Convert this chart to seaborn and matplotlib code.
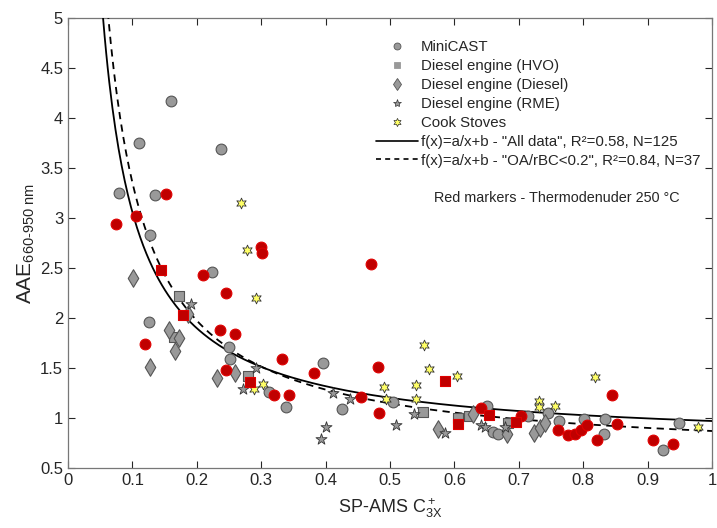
import numpy as np
import pandas as pd
import matplotlib
matplotlib.use("Agg")
import matplotlib.pyplot as plt
import seaborn as sns
from matplotlib.lines import Line2D

# ---- data ----
mini_x = [0.160, 0.111, 0.238, 0.079, 0.135, 0.127, 0.223, 0.126, 0.250, 0.251, 0.312, 0.339,
          0.396, 0.425, 0.504, 0.650, 0.660, 0.667, 0.715, 0.746, 0.763, 0.802, 0.834, 0.832,
          0.924, 0.948]
mini_y = [4.17, 3.75, 3.69, 3.25, 3.23, 2.83, 2.46, 1.96, 1.71, 1.59, 1.26, 1.11,
          1.55, 1.09, 1.16, 1.12, 0.86, 0.84, 1.02, 1.05, 0.97, 0.99, 0.99, 0.84,
          0.68, 0.95]
mini_td_x = [0.0745, 0.105, 0.152, 0.120, 0.209, 0.245, 0.236, 0.260, 0.246, 0.300, 0.301,
             0.332, 0.320, 0.343, 0.382, 0.455, 0.470, 0.481, 0.483, 0.642, 0.704, 0.761,
             0.776, 0.788, 0.797, 0.806, 0.821, 0.844, 0.852, 0.908, 0.939]
mini_td_y = [2.94, 3.02, 3.24, 1.74, 2.43, 2.25, 1.88, 1.84, 1.48, 2.71, 2.65,
             1.59, 1.23, 1.23, 1.45, 1.21, 2.54, 1.51, 1.05, 1.10, 1.02, 0.88,
             0.83, 0.84, 0.88, 0.93, 0.78, 1.23, 0.94, 0.78, 0.74]
hvo_x = [0.172, 0.165, 0.280, 0.552, 0.605, 0.623, 0.684]
hvo_y = [2.22, 1.81, 1.42, 1.06, 1.00, 1.02, 0.95]
hvo_td_x = [0.144, 0.178, 0.283, 0.586, 0.605, 0.654, 0.696]
hvo_td_y = [2.48, 2.03, 1.36, 1.37, 0.94, 1.03, 0.96]
dsl_x = [0.101, 0.186, 0.157, 0.173, 0.166, 0.128, 0.232, 0.259, 0.575, 0.629, 0.682,
         0.723, 0.733, 0.741]
dsl_y = [2.40, 2.04, 1.88, 1.80, 1.67, 1.51, 1.40, 1.45, 0.89, 1.04, 0.84,
         0.85, 0.90, 0.95]
rme_x = [0.191, 0.292, 0.271, 0.411, 0.438, 0.400, 0.393, 0.509, 0.537, 0.585, 0.642,
         0.648, 0.679]
rme_y = [2.14, 1.50, 1.29, 1.25, 1.19, 0.91, 0.79, 0.93, 1.04, 0.85, 0.93,
         0.91, 0.91]
cook_x = [0.268, 0.278, 0.292, 0.289, 0.303, 0.491, 0.494, 0.541, 0.541, 0.553, 0.561,
          0.604, 0.731, 0.731, 0.756, 0.818, 0.979]
cook_y = [3.15, 2.68, 2.20, 1.29, 1.34, 1.31, 1.19, 1.33, 1.19, 1.73, 1.49,
          1.42, 1.17, 1.11, 1.12, 1.41, 0.91]

# fit parameters f(x) = a/x + b
fit_all = (0.232, 0.738)
fit_oa = (0.276, 0.594)

legend_labels = ["MiniCAST", "Diesel engine (HVO)", "Diesel engine (Diesel)",
                 "Diesel engine (RME)", "Cook Stoves",
                 'f(x)=a/x+b - "All data", R²=0.58, N=125',
                 'f(x)=a/x+b - "OA/rBC<0.2", R²=0.84, N=37']
xticks = [0, 0.1, 0.2, 0.3, 0.4, 0.5, 0.6, 0.7, 0.8, 0.9, 1]
xtick_labels = ["0", "0.1", "0.2", "0.3", "0.4", "0.5", "0.6", "0.7", "0.8", "0.9", "1"]
yticks = [0.5, 1, 1.5, 2, 2.5, 3, 3.5, 4, 4.5, 5]
ytick_labels = ["0.5", "1", "1.5", "2", "2.5", "3", "3.5", "4", "4.5", "5"]

sns.set_style("ticks")
plt.rcParams['font.family'] = ['Liberation Sans', 'DejaVu Sans']
plt.rcParams['mathtext.fontset'] = 'custom'
plt.rcParams['mathtext.rm'] = 'Liberation Sans'
plt.rcParams['mathtext.it'] = 'Liberation Sans'

fig = plt.figure(figsize=(7.17, 5.28), dpi=100)
ax = fig.add_axes([68/717, 60/528, 644/717, 450/528])

GRAY = "#999999"
GEDGE = "#555555"
RED = "#c00000"
REDGE = "#e00000"
YEL = "#ffff66"

# fit curves
xf1 = np.linspace(0.04, 1.0, 400)
xf2 = np.linspace(0.05, 1.0, 400)
df_fit = pd.DataFrame({
    "x": np.concatenate([xf1, xf2]),
    "y": np.concatenate([fit_all[0]/xf1 + fit_all[1], fit_oa[0]/xf2 + fit_oa[1]]),
    "fit": ["all"]*len(xf1) + ["oa"]*len(xf2),
})
sns.lineplot(data=df_fit[df_fit.fit == "all"], x="x", y="y", color="black", lw=1.3,
             ax=ax, legend=False, zorder=3)
sns.lineplot(data=df_fit[df_fit.fit == "oa"], x="x", y="y", color="black", lw=1.3,
             ax=ax, legend=False, zorder=3, linestyle=(0, (4, 3)))

def scat(xs, ys, marker, fc, ec, s, lw=0.8):
    sns.scatterplot(x=xs, y=ys, marker=marker, color=fc, edgecolor=ec, s=s,
                    linewidth=lw, ax=ax, legend=False, zorder=4)

scat(mini_x, mini_y, "o", GRAY, GEDGE, 60)
scat(hvo_x, hvo_y, "s", GRAY, GEDGE, 45)
scat(dsl_x, dsl_y, "d", GRAY, GEDGE, 80)
scat(rme_x, rme_y, "*", GRAY, "#333333", 70, 0.6)
scat(cook_x, cook_y, (6, 1, 0), YEL, "#333333", 60, 0.6)
scat(mini_td_x, mini_td_y, "o", RED, REDGE, 60)
scat(hvo_td_x, hvo_td_y, "s", RED, REDGE, 45)

ax.set_xlim(0, 1)
ax.set_ylim(0.5, 5)
ax.set_xticks(xticks)
ax.set_xticklabels(xtick_labels)
ax.set_yticks(yticks)
ax.set_yticklabels(ytick_labels)
ax.tick_params(direction="in", top=True, right=True, length=5, width=0.8,
               labelsize=12, colors="#262626")
for sp in ax.spines.values():
    sp.set_visible(True)
    sp.set_color("#777777")
    sp.set_linewidth(0.9)

ax.set_xlabel("SP-AMS C$^+_{3X}$", fontsize=13, color="#262626", labelpad=6)
ax.set_ylabel("AAE$_{660\\text{-}950\\ nm}$", fontsize=15, color="#262626", labelpad=2)

handles = [
    Line2D([], [], ls="none", marker="o", mfc=GRAY, mec=GEDGE, ms=5, mew=0.6),
    Line2D([], [], ls="none", marker="s", mfc=GRAY, mec=GRAY, ms=4.5, mew=0.6),
    Line2D([], [], ls="none", marker="d", mfc=GRAY, mec=GEDGE, ms=6, mew=0.6),
    Line2D([], [], ls="none", marker="*", mfc=GRAY, mec="#333333", ms=6, mew=0.5),
    Line2D([], [], ls="none", marker=(6, 1, 0), mfc=YEL, mec="#333333", ms=6, mew=0.5),
    Line2D([], [], color="black", lw=1.2),
    Line2D([], [], color="black", lw=1.2, linestyle=(0, (3, 2.5))),
]
leg = ax.legend(handles, legend_labels, loc="upper left",
                bbox_to_anchor=((376-68)/644, (468-40)/450), frameon=False,
                fontsize=10.8, handlelength=2.8, handletextpad=0.2,
                labelspacing=0.33, borderpad=0, borderaxespad=0)
for t in leg.get_texts():
    t.set_color("#262626")

ax.text(0.568, 3.2, "Red markers - Thermodenuder 250 °C", fontsize=10.4,
        color="#262626", va="center", ha="left")

fig.savefig("out.png", dpi=100)
